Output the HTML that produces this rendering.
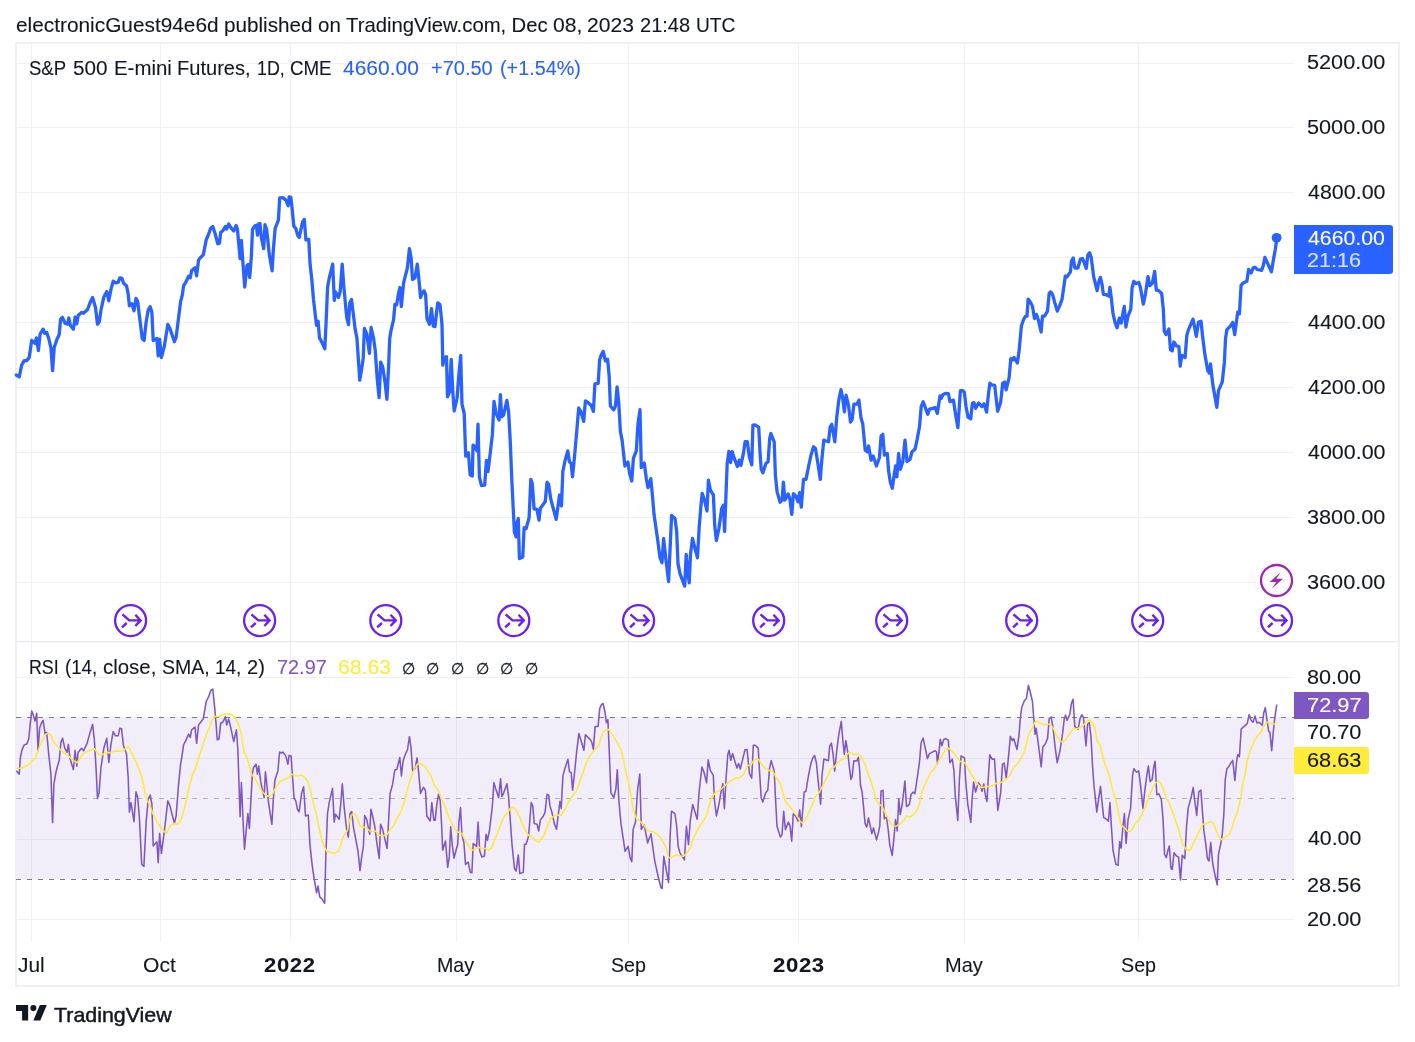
<!DOCTYPE html>
<html lang="en">
<head>
<meta charset="utf-8">
<title>S&amp;P 500 E-mini Futures, 1D, CME</title>
<style>
html,body{margin:0;padding:0;background:#fff;}
body{width:1415px;height:1042px;overflow:hidden;position:relative;font-family:"Liberation Sans", "DejaVu Sans", sans-serif;color:#131722;}
.t{position:absolute;white-space:pre;line-height:1;transform-origin:0 0;}
.frame{position:absolute;left:15px;top:42px;width:1381px;height:941px;border:2px solid #eff0f5;}
.chart{position:absolute;left:0;top:0;}
.box{position:absolute;left:1294px;border-radius:0 3px 3px 0;}
</style>
</head>
<body>
<div class="frame"></div>
<svg class="chart" width="1415" height="1042" viewBox="0 0 1415 1042"><g stroke="#f1f1f4" stroke-width="1" shape-rendering="crispEdges"><line x1="31.5" y1="44" x2="31.5" y2="942"/><line x1="160.5" y1="44" x2="160.5" y2="942"/><line x1="290.5" y1="44" x2="290.5" y2="942"/><line x1="456.5" y1="44" x2="456.5" y2="942"/><line x1="628.5" y1="44" x2="628.5" y2="942"/><line x1="798.5" y1="44" x2="798.5" y2="942"/><line x1="964.5" y1="44" x2="964.5" y2="942"/><line x1="1138.5" y1="44" x2="1138.5" y2="942"/><line x1="17" y1="63.5" x2="1294" y2="63.5"/><line x1="17" y1="127.5" x2="1294" y2="127.5"/><line x1="17" y1="192.5" x2="1294" y2="192.5"/><line x1="17" y1="257.5" x2="1294" y2="257.5"/><line x1="17" y1="322.5" x2="1294" y2="322.5"/><line x1="17" y1="387.5" x2="1294" y2="387.5"/><line x1="17" y1="452.5" x2="1294" y2="452.5"/><line x1="17" y1="517.5" x2="1294" y2="517.5"/><line x1="17" y1="582.5" x2="1294" y2="582.5"/><line x1="17" y1="677.5" x2="1294" y2="677.5"/><line x1="17" y1="758.5" x2="1294" y2="758.5"/><line x1="17" y1="839.5" x2="1294" y2="839.5"/><line x1="17" y1="919.5" x2="1294" y2="919.5"/></g><rect x="17" y="641" width="1381" height="1.2" fill="#e5e6ee"/><rect x="17" y="717" width="1277" height="162.5" fill="#7e57c2" fill-opacity="0.1"/><defs><clipPath id="ob"><rect x="16" y="650" width="1278" height="67"/></clipPath><clipPath id="os"><rect x="16" y="880" width="1278" height="50"/></clipPath></defs><polygon points="16,717 16.3,770.8 19.2,774.2 20.4,757.5 22,749.9 24.2,744.9 26.7,744.1 28.7,739.1 30.4,722.4 31.7,711 33,714.1 35,721.1 36.7,713.2 38,750.8 39.7,727.7 41.4,723.2 43.1,720.4 45.1,734.1 46.7,732.4 48.7,754.1 50.9,774.2 52.6,822.6 53.9,784.2 55.9,772.5 57.6,765.8 59.2,760.8 60.9,742.4 62.6,738.3 64.8,748.3 67.1,752.4 68.4,744.4 70.1,759.1 73.4,769.5 75.1,750.4 76.8,766.1 78.1,752.4 81.5,748.3 83.5,750.8 87.1,743.3 90.1,732.4 92.6,724.4 94.3,739.1 96,767.5 97.5,798.4 99,793.3 101,767.5 103.8,748.3 106.8,738.3 108.8,762.5 111,744.1 113.2,731.6 115.5,735.8 118.2,735.8 119.8,728.2 121.5,728.7 123.5,745.8 126.5,754.1 128.2,777.5 129.4,812.2 131,802.5 134,821.7 136,791.7 137.7,797.5 139.4,817.6 141.7,864.3 143.9,866.5 146.1,822.6 148.2,799.2 150.2,795 151.9,804.2 153.2,845.9 156.9,841.8 158.2,862.6 159.6,833.4 161.4,853.4 164.4,830.9 167.8,800.9 169.9,805.9 174.4,823.4 176.1,815.9 178.6,784.2 180.6,764.1 182.3,754.1 183.6,744.9 186.1,739.9 188.6,734.1 190.3,737.4 191.6,729.9 195,727.1 196.6,743.3 198.6,724.9 200.3,722.7 203.3,718.7 206.2,701.5 208.7,696.5 210.7,690.7 212.8,689 215,710.7 217.3,739.9 219,739.1 220.7,723.2 222.9,722.1 225.4,716.6 226.7,724.9 228.7,719.1 230.7,727.4 233.7,741.6 236.4,729.9 237.9,750.8 240.1,816.7 241.4,782.5 243.2,823.5 244.5,849.3 246.2,830.2 247.9,813.5 249.4,828.5 251,798.4 252.4,773.4 253.5,767.5 256,764.2 257.4,774.2 258.7,765.9 260.7,781.7 264.1,797.6 265.4,771.7 266.9,785.1 268.6,803.4 271.9,824.3 273.2,800.9 274.9,780.1 277.9,770.9 279.6,752 281.6,753 282.9,752 285.8,755.9 287.9,764.2 289.1,755.4 291.1,755.9 292.4,775.1 294.1,798.4 295.8,800.9 297.4,809.3 299.1,811.8 301.6,793.4 303.6,786.7 305.5,816 308.3,815.1 310,845.2 312.1,864.4 314.1,878.6 316.6,892.8 318,886.1 319.7,896.9 321.7,898.6 324.7,903.3 325.8,856.9 327.5,813.5 329.2,802.6 332.5,788.4 334.2,822.1 335.5,814.3 339.2,819.3 340.9,802.1 342.3,783.7 344.2,807.6 346.7,830.2 348.3,837.2 350,813.5 351.7,811.5 353.4,826.8 355.9,840.2 358,851 360,870.6 361.7,856.9 363.4,846 364.7,815.5 366.7,819.3 369.7,834.3 370.9,809.3 372.6,816 374.7,826 377.1,844.3 379.2,858.5 380.6,824.3 382.6,829.3 385.1,840.2 387.1,848.5 388.4,824.3 390.1,793.4 392.6,784.2 394.8,770.1 396.8,769.5 399.8,757.5 401.4,775.9 403.1,760.9 405.1,755 407.6,749.2 409.4,736.7 411,747.5 412.6,770.6 415.1,768.4 417.1,757.9 418.5,770.9 420.5,793.4 423.5,787.2 425.5,790.9 426.8,816 430.2,821 431.8,802.6 433.8,820.1 435.2,820.1 436.8,804.3 438.5,794.3 440.2,800.9 441.5,822.6 442.7,850.2 445.5,841 447.7,867.4 449.3,856.9 450.7,826.8 452.2,844.3 454,858.2 455.2,853.5 457.7,844.3 458.9,822.6 460.5,807.6 461.9,834.3 463.9,842.7 465.5,864.4 468.2,862.2 470.2,872.2 471.9,872.7 473.2,843.5 475.2,845.2 476.6,846.8 478.1,822.1 479.7,851 481.9,856.9 484.4,856 486.1,834.3 487.4,840.2 489.4,831 492.3,806.8 493.9,782.6 496.1,790.1 498.6,797.6 500.6,778.7 501.9,796.8 503.6,793.1 506.9,783.7 508.6,796.8 510.3,820.1 512,844.3 514.5,868.5 516.1,871.1 518.3,854.9 519.8,873.6 523.3,872.2 524.5,844.3 526.1,844.3 528.6,836 531.2,802.6 532.8,805.9 534.2,823.5 537,824.3 538.7,831 540.3,820.1 542.8,816.8 545,812.6 547,794.3 548.7,795.1 550,805.9 552,812.6 554.5,824.3 556.5,829.3 557.9,817.6 560,801.4 561.2,808.4 562.9,775.9 564.5,770.1 567.9,759.2 569.5,771.7 571.2,772.6 572.6,790.1 574.2,776.1 576.7,751.1 578.9,733.6 580.9,740.2 583.9,750.3 585.4,734.7 587.5,736.9 590.1,739.4 591.7,741.9 593.4,749.4 595.1,726.6 598.1,726.4 599.7,708.5 601.4,704.7 603.1,703.5 605.1,712.7 606.4,722.7 607.9,719.7 609.2,750.3 610.9,792.8 613.8,797.5 615.9,788.7 617.3,769.8 618.8,799.5 620.9,822.9 623.1,837.9 625.1,851.3 628.1,846.3 630.1,857.6 631.8,861.6 633.1,829.6 635.5,822 637.6,789.5 639.8,774.1 641.3,829.2 644.3,824.9 647.6,842.9 651,833.7 652.7,846.3 654.8,861.3 658.5,878 661,887.7 662.2,888.5 663.8,856.4 666.2,869.6 668.5,882.5 670.2,834.6 671.5,811.2 674.9,813.7 676.5,824.5 678.2,846.3 679.9,852.9 682.7,857.1 684.4,859.9 686.4,826.2 688.5,844.6 690.2,821.2 692.7,804.5 695.2,812.9 697.2,819.2 699.1,792 701.9,767 703.9,772 706.6,782.8 708.2,759.8 710.3,770.3 713.3,775.3 714.4,799.5 716.4,815.9 719.4,802 721.1,791.2 722.8,783.6 724.4,808.7 726.1,777.8 727.8,754.4 729.1,750.3 730.8,760.3 732.5,753.6 734.8,761.1 737,768.1 738.6,763.6 740.3,769.1 742.8,758.6 745,749.8 747,749.4 749.5,773.6 751.7,778.1 753.3,745.2 755.3,745.2 758.2,748.1 759.5,771.1 761.2,797.8 762.8,802 765.7,792.8 767.8,790.3 769.5,768.6 771.2,760.6 774.2,771.1 775.4,796.2 777,826.2 780.4,837.1 782,834.6 783.7,811.2 785.4,829.6 788.4,822 790.1,826.2 791.7,841.2 793.3,813.7 795.8,816.2 798,821.2 799.7,809.9 801.4,826.6 804.2,792 805.9,791.5 808.4,776.1 810.9,763.6 812.9,757.8 814.5,755.3 816.4,762.8 818.7,786.2 820.6,804.2 822.1,774.5 823.9,759.1 825.9,759.8 828.4,760.8 829.7,746.1 831.4,743.1 833.1,754.4 834.7,771.1 836.7,751.1 838.7,735.2 841.3,721.4 842.6,737.7 844.3,754.4 845.9,740.7 847.6,751.1 849.3,766.1 850.9,779.5 852.1,777 853.8,760.8 856.8,761.1 858.4,757.4 859.6,769.5 860.5,785.3 862.1,792 863.5,806.2 865.1,823.7 866.8,827.1 868.5,817.9 870.1,825.4 871.8,833.7 873.5,827.9 876.5,839.9 878.5,832.1 879.8,826.2 881,791.2 883,790.3 884.3,818.7 886.5,817 888.2,829.6 889.7,844.6 892.2,855.4 893.8,839.6 895.5,819.5 897.2,830.9 898.8,798.7 900.2,814.5 902.2,804.5 904.9,781.1 906.5,806.5 909.4,804.5 911,794.5 913.2,792 914.9,793.7 916.5,782.8 919.4,762.8 921.1,742.7 923.1,738.1 925.2,747.8 927.4,758.6 929.4,753.6 931.9,752.4 934.9,750.8 936.6,751.9 937.4,763.6 939.1,751.1 940.3,739.4 941.9,745.7 943.6,739.7 945.6,738.6 948.3,740.2 949.9,762.8 952.3,759.1 953.9,770.3 955.3,796.2 957.8,820.4 959.4,779.5 961.1,755.8 964.5,757.8 965.6,779.5 967.8,804.5 970.8,822.4 972,800.3 973.6,782 975.6,792 978.3,782.8 980.3,785.3 982,791.2 983.7,784.1 985.3,794.5 987,801.5 988.3,777.8 989.8,754.8 992,759.1 994.5,759.1 995.8,779.5 997.8,810.4 1000.7,792.8 1002.5,764.1 1004.2,763.1 1006.2,777.8 1007.9,762.8 1010.4,736.4 1012.4,740.7 1013.7,738.6 1017,749.4 1019,735.2 1020.4,717.6 1021.7,707.5 1024.2,700.9 1026.4,698.4 1028.4,685.3 1030.4,692.5 1032.5,701.7 1035,734.3 1036.2,728.4 1038.7,746.8 1041.2,766.8 1042.9,746.8 1045.1,744.3 1047.6,738.4 1049.2,718.7 1051.2,717.1 1053.1,728.4 1055.1,746.8 1057.2,762.6 1060.1,750.1 1062.6,733.4 1064.3,718.7 1065.6,715.1 1067.1,720.4 1069.8,714.2 1071.4,703.4 1073.1,699.2 1074.8,726.7 1076.4,727.6 1078.1,729.2 1080.1,718.4 1081.8,714.7 1083.5,717.6 1086,745.9 1087.6,724.2 1089.3,722.6 1091,736.8 1092.6,766.8 1094,785.5 1096.8,812.1 1098.7,798.4 1100.5,786.4 1102,801.8 1103.7,817.6 1105.9,818.8 1108.4,821.3 1110,802.6 1111.4,826.8 1113,850.2 1115.9,864.4 1118,865.2 1119.7,841.5 1121.1,848.2 1122.9,826.8 1124.4,813.5 1126.1,843.5 1128.1,819.3 1130.6,808.4 1132.6,775.1 1133.9,768.7 1136.4,772.1 1138.7,770.9 1140.4,783.7 1142.9,808.4 1145.1,788.4 1147.1,773.4 1148.4,765.9 1150.1,781.4 1152.1,779.7 1153.8,766.7 1155.1,761.2 1156.8,794.8 1158.8,793.8 1161.3,799.3 1163,818.5 1164.6,854.4 1166.3,857.7 1168,850.2 1169.3,846 1171,868.5 1172.3,869.4 1174,852.7 1176.5,856 1178.5,856.9 1180.5,879.9 1182.2,855.2 1184.8,858.5 1186.5,826.8 1188.2,808.1 1191.3,796.8 1193.2,787.6 1194.7,800.1 1196.7,815.5 1198.8,791.8 1200.9,790.1 1202.2,808.4 1203.9,831 1205.5,841.8 1207.4,858.5 1209,861 1210.7,842.2 1212.7,863.5 1214.7,873.6 1217.2,884.9 1218.5,854.4 1220.6,844.3 1222.2,835.2 1223.9,813.5 1225.2,780.1 1226.9,768.7 1228.9,766.4 1230.6,763.4 1232.7,760.4 1234.9,780.4 1236.6,761.7 1237.7,754.7 1239.4,756.7 1241.2,729.1 1243,727.3 1247.2,723.7 1249.2,714.5 1251,719.9 1253,722.2 1255,716 1256.8,722.9 1259.1,722.2 1262.2,725.3 1263.7,713 1265.3,707.6 1267.1,720.6 1268.7,731.4 1269.9,732.2 1271.7,750.6 1273.4,730.6 1274.8,717.6 1276.8,704.5 1277,717" fill="#787b86" fill-opacity="0.1" clip-path="url(#ob)"/><polygon points="16,880 16.3,770.8 19.2,774.2 20.4,757.5 22,749.9 24.2,744.9 26.7,744.1 28.7,739.1 30.4,722.4 31.7,711 33,714.1 35,721.1 36.7,713.2 38,750.8 39.7,727.7 41.4,723.2 43.1,720.4 45.1,734.1 46.7,732.4 48.7,754.1 50.9,774.2 52.6,822.6 53.9,784.2 55.9,772.5 57.6,765.8 59.2,760.8 60.9,742.4 62.6,738.3 64.8,748.3 67.1,752.4 68.4,744.4 70.1,759.1 73.4,769.5 75.1,750.4 76.8,766.1 78.1,752.4 81.5,748.3 83.5,750.8 87.1,743.3 90.1,732.4 92.6,724.4 94.3,739.1 96,767.5 97.5,798.4 99,793.3 101,767.5 103.8,748.3 106.8,738.3 108.8,762.5 111,744.1 113.2,731.6 115.5,735.8 118.2,735.8 119.8,728.2 121.5,728.7 123.5,745.8 126.5,754.1 128.2,777.5 129.4,812.2 131,802.5 134,821.7 136,791.7 137.7,797.5 139.4,817.6 141.7,864.3 143.9,866.5 146.1,822.6 148.2,799.2 150.2,795 151.9,804.2 153.2,845.9 156.9,841.8 158.2,862.6 159.6,833.4 161.4,853.4 164.4,830.9 167.8,800.9 169.9,805.9 174.4,823.4 176.1,815.9 178.6,784.2 180.6,764.1 182.3,754.1 183.6,744.9 186.1,739.9 188.6,734.1 190.3,737.4 191.6,729.9 195,727.1 196.6,743.3 198.6,724.9 200.3,722.7 203.3,718.7 206.2,701.5 208.7,696.5 210.7,690.7 212.8,689 215,710.7 217.3,739.9 219,739.1 220.7,723.2 222.9,722.1 225.4,716.6 226.7,724.9 228.7,719.1 230.7,727.4 233.7,741.6 236.4,729.9 237.9,750.8 240.1,816.7 241.4,782.5 243.2,823.5 244.5,849.3 246.2,830.2 247.9,813.5 249.4,828.5 251,798.4 252.4,773.4 253.5,767.5 256,764.2 257.4,774.2 258.7,765.9 260.7,781.7 264.1,797.6 265.4,771.7 266.9,785.1 268.6,803.4 271.9,824.3 273.2,800.9 274.9,780.1 277.9,770.9 279.6,752 281.6,753 282.9,752 285.8,755.9 287.9,764.2 289.1,755.4 291.1,755.9 292.4,775.1 294.1,798.4 295.8,800.9 297.4,809.3 299.1,811.8 301.6,793.4 303.6,786.7 305.5,816 308.3,815.1 310,845.2 312.1,864.4 314.1,878.6 316.6,892.8 318,886.1 319.7,896.9 321.7,898.6 324.7,903.3 325.8,856.9 327.5,813.5 329.2,802.6 332.5,788.4 334.2,822.1 335.5,814.3 339.2,819.3 340.9,802.1 342.3,783.7 344.2,807.6 346.7,830.2 348.3,837.2 350,813.5 351.7,811.5 353.4,826.8 355.9,840.2 358,851 360,870.6 361.7,856.9 363.4,846 364.7,815.5 366.7,819.3 369.7,834.3 370.9,809.3 372.6,816 374.7,826 377.1,844.3 379.2,858.5 380.6,824.3 382.6,829.3 385.1,840.2 387.1,848.5 388.4,824.3 390.1,793.4 392.6,784.2 394.8,770.1 396.8,769.5 399.8,757.5 401.4,775.9 403.1,760.9 405.1,755 407.6,749.2 409.4,736.7 411,747.5 412.6,770.6 415.1,768.4 417.1,757.9 418.5,770.9 420.5,793.4 423.5,787.2 425.5,790.9 426.8,816 430.2,821 431.8,802.6 433.8,820.1 435.2,820.1 436.8,804.3 438.5,794.3 440.2,800.9 441.5,822.6 442.7,850.2 445.5,841 447.7,867.4 449.3,856.9 450.7,826.8 452.2,844.3 454,858.2 455.2,853.5 457.7,844.3 458.9,822.6 460.5,807.6 461.9,834.3 463.9,842.7 465.5,864.4 468.2,862.2 470.2,872.2 471.9,872.7 473.2,843.5 475.2,845.2 476.6,846.8 478.1,822.1 479.7,851 481.9,856.9 484.4,856 486.1,834.3 487.4,840.2 489.4,831 492.3,806.8 493.9,782.6 496.1,790.1 498.6,797.6 500.6,778.7 501.9,796.8 503.6,793.1 506.9,783.7 508.6,796.8 510.3,820.1 512,844.3 514.5,868.5 516.1,871.1 518.3,854.9 519.8,873.6 523.3,872.2 524.5,844.3 526.1,844.3 528.6,836 531.2,802.6 532.8,805.9 534.2,823.5 537,824.3 538.7,831 540.3,820.1 542.8,816.8 545,812.6 547,794.3 548.7,795.1 550,805.9 552,812.6 554.5,824.3 556.5,829.3 557.9,817.6 560,801.4 561.2,808.4 562.9,775.9 564.5,770.1 567.9,759.2 569.5,771.7 571.2,772.6 572.6,790.1 574.2,776.1 576.7,751.1 578.9,733.6 580.9,740.2 583.9,750.3 585.4,734.7 587.5,736.9 590.1,739.4 591.7,741.9 593.4,749.4 595.1,726.6 598.1,726.4 599.7,708.5 601.4,704.7 603.1,703.5 605.1,712.7 606.4,722.7 607.9,719.7 609.2,750.3 610.9,792.8 613.8,797.5 615.9,788.7 617.3,769.8 618.8,799.5 620.9,822.9 623.1,837.9 625.1,851.3 628.1,846.3 630.1,857.6 631.8,861.6 633.1,829.6 635.5,822 637.6,789.5 639.8,774.1 641.3,829.2 644.3,824.9 647.6,842.9 651,833.7 652.7,846.3 654.8,861.3 658.5,878 661,887.7 662.2,888.5 663.8,856.4 666.2,869.6 668.5,882.5 670.2,834.6 671.5,811.2 674.9,813.7 676.5,824.5 678.2,846.3 679.9,852.9 682.7,857.1 684.4,859.9 686.4,826.2 688.5,844.6 690.2,821.2 692.7,804.5 695.2,812.9 697.2,819.2 699.1,792 701.9,767 703.9,772 706.6,782.8 708.2,759.8 710.3,770.3 713.3,775.3 714.4,799.5 716.4,815.9 719.4,802 721.1,791.2 722.8,783.6 724.4,808.7 726.1,777.8 727.8,754.4 729.1,750.3 730.8,760.3 732.5,753.6 734.8,761.1 737,768.1 738.6,763.6 740.3,769.1 742.8,758.6 745,749.8 747,749.4 749.5,773.6 751.7,778.1 753.3,745.2 755.3,745.2 758.2,748.1 759.5,771.1 761.2,797.8 762.8,802 765.7,792.8 767.8,790.3 769.5,768.6 771.2,760.6 774.2,771.1 775.4,796.2 777,826.2 780.4,837.1 782,834.6 783.7,811.2 785.4,829.6 788.4,822 790.1,826.2 791.7,841.2 793.3,813.7 795.8,816.2 798,821.2 799.7,809.9 801.4,826.6 804.2,792 805.9,791.5 808.4,776.1 810.9,763.6 812.9,757.8 814.5,755.3 816.4,762.8 818.7,786.2 820.6,804.2 822.1,774.5 823.9,759.1 825.9,759.8 828.4,760.8 829.7,746.1 831.4,743.1 833.1,754.4 834.7,771.1 836.7,751.1 838.7,735.2 841.3,721.4 842.6,737.7 844.3,754.4 845.9,740.7 847.6,751.1 849.3,766.1 850.9,779.5 852.1,777 853.8,760.8 856.8,761.1 858.4,757.4 859.6,769.5 860.5,785.3 862.1,792 863.5,806.2 865.1,823.7 866.8,827.1 868.5,817.9 870.1,825.4 871.8,833.7 873.5,827.9 876.5,839.9 878.5,832.1 879.8,826.2 881,791.2 883,790.3 884.3,818.7 886.5,817 888.2,829.6 889.7,844.6 892.2,855.4 893.8,839.6 895.5,819.5 897.2,830.9 898.8,798.7 900.2,814.5 902.2,804.5 904.9,781.1 906.5,806.5 909.4,804.5 911,794.5 913.2,792 914.9,793.7 916.5,782.8 919.4,762.8 921.1,742.7 923.1,738.1 925.2,747.8 927.4,758.6 929.4,753.6 931.9,752.4 934.9,750.8 936.6,751.9 937.4,763.6 939.1,751.1 940.3,739.4 941.9,745.7 943.6,739.7 945.6,738.6 948.3,740.2 949.9,762.8 952.3,759.1 953.9,770.3 955.3,796.2 957.8,820.4 959.4,779.5 961.1,755.8 964.5,757.8 965.6,779.5 967.8,804.5 970.8,822.4 972,800.3 973.6,782 975.6,792 978.3,782.8 980.3,785.3 982,791.2 983.7,784.1 985.3,794.5 987,801.5 988.3,777.8 989.8,754.8 992,759.1 994.5,759.1 995.8,779.5 997.8,810.4 1000.7,792.8 1002.5,764.1 1004.2,763.1 1006.2,777.8 1007.9,762.8 1010.4,736.4 1012.4,740.7 1013.7,738.6 1017,749.4 1019,735.2 1020.4,717.6 1021.7,707.5 1024.2,700.9 1026.4,698.4 1028.4,685.3 1030.4,692.5 1032.5,701.7 1035,734.3 1036.2,728.4 1038.7,746.8 1041.2,766.8 1042.9,746.8 1045.1,744.3 1047.6,738.4 1049.2,718.7 1051.2,717.1 1053.1,728.4 1055.1,746.8 1057.2,762.6 1060.1,750.1 1062.6,733.4 1064.3,718.7 1065.6,715.1 1067.1,720.4 1069.8,714.2 1071.4,703.4 1073.1,699.2 1074.8,726.7 1076.4,727.6 1078.1,729.2 1080.1,718.4 1081.8,714.7 1083.5,717.6 1086,745.9 1087.6,724.2 1089.3,722.6 1091,736.8 1092.6,766.8 1094,785.5 1096.8,812.1 1098.7,798.4 1100.5,786.4 1102,801.8 1103.7,817.6 1105.9,818.8 1108.4,821.3 1110,802.6 1111.4,826.8 1113,850.2 1115.9,864.4 1118,865.2 1119.7,841.5 1121.1,848.2 1122.9,826.8 1124.4,813.5 1126.1,843.5 1128.1,819.3 1130.6,808.4 1132.6,775.1 1133.9,768.7 1136.4,772.1 1138.7,770.9 1140.4,783.7 1142.9,808.4 1145.1,788.4 1147.1,773.4 1148.4,765.9 1150.1,781.4 1152.1,779.7 1153.8,766.7 1155.1,761.2 1156.8,794.8 1158.8,793.8 1161.3,799.3 1163,818.5 1164.6,854.4 1166.3,857.7 1168,850.2 1169.3,846 1171,868.5 1172.3,869.4 1174,852.7 1176.5,856 1178.5,856.9 1180.5,879.9 1182.2,855.2 1184.8,858.5 1186.5,826.8 1188.2,808.1 1191.3,796.8 1193.2,787.6 1194.7,800.1 1196.7,815.5 1198.8,791.8 1200.9,790.1 1202.2,808.4 1203.9,831 1205.5,841.8 1207.4,858.5 1209,861 1210.7,842.2 1212.7,863.5 1214.7,873.6 1217.2,884.9 1218.5,854.4 1220.6,844.3 1222.2,835.2 1223.9,813.5 1225.2,780.1 1226.9,768.7 1228.9,766.4 1230.6,763.4 1232.7,760.4 1234.9,780.4 1236.6,761.7 1237.7,754.7 1239.4,756.7 1241.2,729.1 1243,727.3 1247.2,723.7 1249.2,714.5 1251,719.9 1253,722.2 1255,716 1256.8,722.9 1259.1,722.2 1262.2,725.3 1263.7,713 1265.3,707.6 1267.1,720.6 1268.7,731.4 1269.9,732.2 1271.7,750.6 1273.4,730.6 1274.8,717.6 1276.8,704.5 1277,880" fill="#787b86" fill-opacity="0.08" clip-path="url(#os)"/><line x1="16" y1="717.5" x2="1294" y2="717.5" stroke="#787b86" stroke-opacity="1" stroke-width="1" stroke-dasharray="5 6" shape-rendering="crispEdges"/><line x1="16" y1="798.5" x2="1294" y2="798.5" stroke="#787b86" stroke-opacity="0.55" stroke-width="1" stroke-dasharray="5 6" shape-rendering="crispEdges"/><line x1="16" y1="879.5" x2="1294" y2="879.5" stroke="#787b86" stroke-opacity="1" stroke-width="1" stroke-dasharray="5 6" shape-rendering="crispEdges"/><polyline points="16.3,770.8 19.2,774.2 20.4,757.5 22,749.9 24.2,744.9 26.7,744.1 28.7,739.1 30.4,722.4 31.7,711 33,714.1 35,721.1 36.7,713.2 38,750.8 39.7,727.7 41.4,723.2 43.1,720.4 45.1,734.1 46.7,732.4 48.7,754.1 50.9,774.2 52.6,822.6 53.9,784.2 55.9,772.5 57.6,765.8 59.2,760.8 60.9,742.4 62.6,738.3 64.8,748.3 67.1,752.4 68.4,744.4 70.1,759.1 73.4,769.5 75.1,750.4 76.8,766.1 78.1,752.4 81.5,748.3 83.5,750.8 87.1,743.3 90.1,732.4 92.6,724.4 94.3,739.1 96,767.5 97.5,798.4 99,793.3 101,767.5 103.8,748.3 106.8,738.3 108.8,762.5 111,744.1 113.2,731.6 115.5,735.8 118.2,735.8 119.8,728.2 121.5,728.7 123.5,745.8 126.5,754.1 128.2,777.5 129.4,812.2 131,802.5 134,821.7 136,791.7 137.7,797.5 139.4,817.6 141.7,864.3 143.9,866.5 146.1,822.6 148.2,799.2 150.2,795 151.9,804.2 153.2,845.9 156.9,841.8 158.2,862.6 159.6,833.4 161.4,853.4 164.4,830.9 167.8,800.9 169.9,805.9 174.4,823.4 176.1,815.9 178.6,784.2 180.6,764.1 182.3,754.1 183.6,744.9 186.1,739.9 188.6,734.1 190.3,737.4 191.6,729.9 195,727.1 196.6,743.3 198.6,724.9 200.3,722.7 203.3,718.7 206.2,701.5 208.7,696.5 210.7,690.7 212.8,689 215,710.7 217.3,739.9 219,739.1 220.7,723.2 222.9,722.1 225.4,716.6 226.7,724.9 228.7,719.1 230.7,727.4 233.7,741.6 236.4,729.9 237.9,750.8 240.1,816.7 241.4,782.5 243.2,823.5 244.5,849.3 246.2,830.2 247.9,813.5 249.4,828.5 251,798.4 252.4,773.4 253.5,767.5 256,764.2 257.4,774.2 258.7,765.9 260.7,781.7 264.1,797.6 265.4,771.7 266.9,785.1 268.6,803.4 271.9,824.3 273.2,800.9 274.9,780.1 277.9,770.9 279.6,752 281.6,753 282.9,752 285.8,755.9 287.9,764.2 289.1,755.4 291.1,755.9 292.4,775.1 294.1,798.4 295.8,800.9 297.4,809.3 299.1,811.8 301.6,793.4 303.6,786.7 305.5,816 308.3,815.1 310,845.2 312.1,864.4 314.1,878.6 316.6,892.8 318,886.1 319.7,896.9 321.7,898.6 324.7,903.3 325.8,856.9 327.5,813.5 329.2,802.6 332.5,788.4 334.2,822.1 335.5,814.3 339.2,819.3 340.9,802.1 342.3,783.7 344.2,807.6 346.7,830.2 348.3,837.2 350,813.5 351.7,811.5 353.4,826.8 355.9,840.2 358,851 360,870.6 361.7,856.9 363.4,846 364.7,815.5 366.7,819.3 369.7,834.3 370.9,809.3 372.6,816 374.7,826 377.1,844.3 379.2,858.5 380.6,824.3 382.6,829.3 385.1,840.2 387.1,848.5 388.4,824.3 390.1,793.4 392.6,784.2 394.8,770.1 396.8,769.5 399.8,757.5 401.4,775.9 403.1,760.9 405.1,755 407.6,749.2 409.4,736.7 411,747.5 412.6,770.6 415.1,768.4 417.1,757.9 418.5,770.9 420.5,793.4 423.5,787.2 425.5,790.9 426.8,816 430.2,821 431.8,802.6 433.8,820.1 435.2,820.1 436.8,804.3 438.5,794.3 440.2,800.9 441.5,822.6 442.7,850.2 445.5,841 447.7,867.4 449.3,856.9 450.7,826.8 452.2,844.3 454,858.2 455.2,853.5 457.7,844.3 458.9,822.6 460.5,807.6 461.9,834.3 463.9,842.7 465.5,864.4 468.2,862.2 470.2,872.2 471.9,872.7 473.2,843.5 475.2,845.2 476.6,846.8 478.1,822.1 479.7,851 481.9,856.9 484.4,856 486.1,834.3 487.4,840.2 489.4,831 492.3,806.8 493.9,782.6 496.1,790.1 498.6,797.6 500.6,778.7 501.9,796.8 503.6,793.1 506.9,783.7 508.6,796.8 510.3,820.1 512,844.3 514.5,868.5 516.1,871.1 518.3,854.9 519.8,873.6 523.3,872.2 524.5,844.3 526.1,844.3 528.6,836 531.2,802.6 532.8,805.9 534.2,823.5 537,824.3 538.7,831 540.3,820.1 542.8,816.8 545,812.6 547,794.3 548.7,795.1 550,805.9 552,812.6 554.5,824.3 556.5,829.3 557.9,817.6 560,801.4 561.2,808.4 562.9,775.9 564.5,770.1 567.9,759.2 569.5,771.7 571.2,772.6 572.6,790.1 574.2,776.1 576.7,751.1 578.9,733.6 580.9,740.2 583.9,750.3 585.4,734.7 587.5,736.9 590.1,739.4 591.7,741.9 593.4,749.4 595.1,726.6 598.1,726.4 599.7,708.5 601.4,704.7 603.1,703.5 605.1,712.7 606.4,722.7 607.9,719.7 609.2,750.3 610.9,792.8 613.8,797.5 615.9,788.7 617.3,769.8 618.8,799.5 620.9,822.9 623.1,837.9 625.1,851.3 628.1,846.3 630.1,857.6 631.8,861.6 633.1,829.6 635.5,822 637.6,789.5 639.8,774.1 641.3,829.2 644.3,824.9 647.6,842.9 651,833.7 652.7,846.3 654.8,861.3 658.5,878 661,887.7 662.2,888.5 663.8,856.4 666.2,869.6 668.5,882.5 670.2,834.6 671.5,811.2 674.9,813.7 676.5,824.5 678.2,846.3 679.9,852.9 682.7,857.1 684.4,859.9 686.4,826.2 688.5,844.6 690.2,821.2 692.7,804.5 695.2,812.9 697.2,819.2 699.1,792 701.9,767 703.9,772 706.6,782.8 708.2,759.8 710.3,770.3 713.3,775.3 714.4,799.5 716.4,815.9 719.4,802 721.1,791.2 722.8,783.6 724.4,808.7 726.1,777.8 727.8,754.4 729.1,750.3 730.8,760.3 732.5,753.6 734.8,761.1 737,768.1 738.6,763.6 740.3,769.1 742.8,758.6 745,749.8 747,749.4 749.5,773.6 751.7,778.1 753.3,745.2 755.3,745.2 758.2,748.1 759.5,771.1 761.2,797.8 762.8,802 765.7,792.8 767.8,790.3 769.5,768.6 771.2,760.6 774.2,771.1 775.4,796.2 777,826.2 780.4,837.1 782,834.6 783.7,811.2 785.4,829.6 788.4,822 790.1,826.2 791.7,841.2 793.3,813.7 795.8,816.2 798,821.2 799.7,809.9 801.4,826.6 804.2,792 805.9,791.5 808.4,776.1 810.9,763.6 812.9,757.8 814.5,755.3 816.4,762.8 818.7,786.2 820.6,804.2 822.1,774.5 823.9,759.1 825.9,759.8 828.4,760.8 829.7,746.1 831.4,743.1 833.1,754.4 834.7,771.1 836.7,751.1 838.7,735.2 841.3,721.4 842.6,737.7 844.3,754.4 845.9,740.7 847.6,751.1 849.3,766.1 850.9,779.5 852.1,777 853.8,760.8 856.8,761.1 858.4,757.4 859.6,769.5 860.5,785.3 862.1,792 863.5,806.2 865.1,823.7 866.8,827.1 868.5,817.9 870.1,825.4 871.8,833.7 873.5,827.9 876.5,839.9 878.5,832.1 879.8,826.2 881,791.2 883,790.3 884.3,818.7 886.5,817 888.2,829.6 889.7,844.6 892.2,855.4 893.8,839.6 895.5,819.5 897.2,830.9 898.8,798.7 900.2,814.5 902.2,804.5 904.9,781.1 906.5,806.5 909.4,804.5 911,794.5 913.2,792 914.9,793.7 916.5,782.8 919.4,762.8 921.1,742.7 923.1,738.1 925.2,747.8 927.4,758.6 929.4,753.6 931.9,752.4 934.9,750.8 936.6,751.9 937.4,763.6 939.1,751.1 940.3,739.4 941.9,745.7 943.6,739.7 945.6,738.6 948.3,740.2 949.9,762.8 952.3,759.1 953.9,770.3 955.3,796.2 957.8,820.4 959.4,779.5 961.1,755.8 964.5,757.8 965.6,779.5 967.8,804.5 970.8,822.4 972,800.3 973.6,782 975.6,792 978.3,782.8 980.3,785.3 982,791.2 983.7,784.1 985.3,794.5 987,801.5 988.3,777.8 989.8,754.8 992,759.1 994.5,759.1 995.8,779.5 997.8,810.4 1000.7,792.8 1002.5,764.1 1004.2,763.1 1006.2,777.8 1007.9,762.8 1010.4,736.4 1012.4,740.7 1013.7,738.6 1017,749.4 1019,735.2 1020.4,717.6 1021.7,707.5 1024.2,700.9 1026.4,698.4 1028.4,685.3 1030.4,692.5 1032.5,701.7 1035,734.3 1036.2,728.4 1038.7,746.8 1041.2,766.8 1042.9,746.8 1045.1,744.3 1047.6,738.4 1049.2,718.7 1051.2,717.1 1053.1,728.4 1055.1,746.8 1057.2,762.6 1060.1,750.1 1062.6,733.4 1064.3,718.7 1065.6,715.1 1067.1,720.4 1069.8,714.2 1071.4,703.4 1073.1,699.2 1074.8,726.7 1076.4,727.6 1078.1,729.2 1080.1,718.4 1081.8,714.7 1083.5,717.6 1086,745.9 1087.6,724.2 1089.3,722.6 1091,736.8 1092.6,766.8 1094,785.5 1096.8,812.1 1098.7,798.4 1100.5,786.4 1102,801.8 1103.7,817.6 1105.9,818.8 1108.4,821.3 1110,802.6 1111.4,826.8 1113,850.2 1115.9,864.4 1118,865.2 1119.7,841.5 1121.1,848.2 1122.9,826.8 1124.4,813.5 1126.1,843.5 1128.1,819.3 1130.6,808.4 1132.6,775.1 1133.9,768.7 1136.4,772.1 1138.7,770.9 1140.4,783.7 1142.9,808.4 1145.1,788.4 1147.1,773.4 1148.4,765.9 1150.1,781.4 1152.1,779.7 1153.8,766.7 1155.1,761.2 1156.8,794.8 1158.8,793.8 1161.3,799.3 1163,818.5 1164.6,854.4 1166.3,857.7 1168,850.2 1169.3,846 1171,868.5 1172.3,869.4 1174,852.7 1176.5,856 1178.5,856.9 1180.5,879.9 1182.2,855.2 1184.8,858.5 1186.5,826.8 1188.2,808.1 1191.3,796.8 1193.2,787.6 1194.7,800.1 1196.7,815.5 1198.8,791.8 1200.9,790.1 1202.2,808.4 1203.9,831 1205.5,841.8 1207.4,858.5 1209,861 1210.7,842.2 1212.7,863.5 1214.7,873.6 1217.2,884.9 1218.5,854.4 1220.6,844.3 1222.2,835.2 1223.9,813.5 1225.2,780.1 1226.9,768.7 1228.9,766.4 1230.6,763.4 1232.7,760.4 1234.9,780.4 1236.6,761.7 1237.7,754.7 1239.4,756.7 1241.2,729.1 1243,727.3 1247.2,723.7 1249.2,714.5 1251,719.9 1253,722.2 1255,716 1256.8,722.9 1259.1,722.2 1262.2,725.3 1263.7,713 1265.3,707.6 1267.1,720.6 1268.7,731.4 1269.9,732.2 1271.7,750.6 1273.4,730.6 1274.8,717.6 1276.8,704.5" fill="none" stroke="#7e57c2" stroke-width="1.55" stroke-linejoin="round"/><polyline points="16.3,768.3 20.9,768.3 24.2,767 28,765 31.7,761.6 35,758.3 37.5,752.4 40.1,744.9 43.1,739.1 45.9,734.1 48.1,733.2 50.9,735.4 53.4,741.6 56.7,745.4 60.1,749.6 63.4,752.4 67.6,755 70.9,758.3 74.3,761.1 76.8,762.8 79.3,759.5 81.8,755 84.3,752.8 88.5,751.1 91.8,749.9 94.3,748.8 96,750.8 98.5,754.5 101.8,755 104.3,753.3 106.8,752.1 109.3,752.9 111.8,752.1 115.2,751.1 120.2,751.1 123.5,750.8 126,747.8 128.2,746.3 130.2,749.9 133.5,756.6 137.7,765.8 141.1,775 143.6,785 145.6,795 147.7,800.9 150.2,805.9 152.7,813.4 156.1,820.1 160.3,826.7 163.6,830.9 166.4,833.4 168.6,829.2 171.1,825.1 174.4,823.4 177.8,824.2 180.3,821.7 182.8,814.2 186.1,800.9 189.5,785.8 192,775.8 195.3,769.1 197.8,760.8 200.3,753.3 203.7,742.4 207,732.4 209.5,727.7 212,720.7 214,716.6 217,716.6 220.7,715.7 224.5,714.1 228.7,713.7 232,714.9 235.4,718.2 238.7,724.9 241.2,734.1 243.4,748.3 244,751.7 246.9,757.5 249,765 251.5,774.2 254.9,778.4 259.1,785.9 262.4,791.8 265.7,795.1 269.9,796.8 272.4,794.3 274.9,789.2 277.4,785.1 279.9,781.7 283.3,779.7 288.3,778.1 291.1,773.7 293.3,775.1 296.6,775.9 301.6,775.1 305,777.6 308.3,782.6 310.8,791.8 313.3,802.6 316.6,815.1 319.2,828.5 321.7,839.3 324.2,846.8 326.7,851 330,852.2 335,853.2 338.4,851 340.8,845.2 342.5,838.5 345,833.5 347.5,830.2 349.2,821.8 350.9,816 353.4,813.8 355.9,815.5 358,820.1 360,826 363.4,827.1 366.7,828.1 370.1,831 373.4,831.5 375.9,831 379.2,835.2 382.6,835.7 386.7,835.2 389.2,831 393.4,826 396.8,818.5 400.9,811.8 404.3,801.8 407.6,788.4 411.8,775.1 415.1,767.5 418.5,763 421.8,764.2 425.1,766.7 427.6,770.9 431,775.9 434.3,785.1 438.5,790.9 441.8,799.3 445.2,806.8 448.5,816.8 451.9,823.5 456,831 458.5,832.2 461.9,833.5 465.2,840.2 468.5,846 471.9,850.2 475.2,849.3 478.2,846.8 481.1,848.5 486.1,848.5 488.6,850.2 491.9,847.7 494.4,840.2 497.8,832.7 501.1,823.5 504.4,816 507.8,812.6 510.3,808.1 512.8,807.1 516.1,810.1 519.5,816.8 522.8,825.1 526.1,831.8 528.6,835.2 532,836.5 535.3,840.2 538.7,842.2 541.2,839.3 544.5,834.3 547.8,825.1 550.7,818.1 554.5,816 557.9,815.1 561.2,815.5 564.5,810.1 568.7,801.8 573.4,794.5 575.9,792 578.4,786.2 580.9,777.8 583.4,772 585.9,763.6 589.2,756.9 592.6,751.9 595.9,748.6 598.7,745.2 600.9,737.7 603.1,731.9 605.9,730.2 608.4,729.4 610.9,732.4 614.3,737.7 617.6,743.6 620.9,749.4 623.4,759.4 625.9,772 628.4,782 630.5,792.8 632.6,806.2 635.1,815.4 637.1,819.5 640.1,821.2 643.5,824.5 646.8,829.6 649.3,831.2 652.7,831.6 656,833.7 659.3,835.9 662.7,841.2 666,847.1 668.5,857.1 670.2,857.9 673.5,856.6 676.9,854.6 679.4,855.9 683.5,856.3 686.9,852.9 690.2,847.9 693.6,837.9 696.9,831.2 701.1,823.7 704.4,819.5 706.9,814.5 709.4,804.5 711.9,797 715.3,792.8 718.6,791.2 722.8,787.5 726.9,783.6 730.3,781.1 734.5,778.6 738.6,778.1 742,776.1 744.5,772.8 747,766.1 751.2,764.4 753.7,760.3 756.2,759.1 758.7,759.4 762,765.3 765.3,768.1 768.7,770.3 772.9,771.5 776.2,777.8 780.4,783.6 782.9,792.8 785.4,801.2 789.5,806.2 793.3,811.2 796.7,815.4 800,821.2 802.5,823.2 805,820.4 808.4,813.7 811.7,806.2 815,797 818.4,793.7 821.7,787.8 825.1,781.1 828.4,774.5 830.9,768.6 834.2,767 837.6,762.8 840.9,760.3 844.3,758.6 846.8,754.4 849.3,752.4 851.8,753.6 854.3,754.4 857.6,754.1 860.1,756.1 862.6,759.4 865.1,764.4 867.6,772.8 871,781.1 873.5,789.5 876,800.3 879.3,804.2 881.8,806.2 885.2,812.9 888.5,819.5 891,824.2 893.5,826.2 896.8,825.9 900.2,823.7 903.5,820.4 906.9,815.9 910.2,817 913.5,814.9 916.9,810.4 919.4,803.7 921.9,792 924.4,785.3 927.7,778.6 931.1,772 933.6,769.8 936.9,763.6 940.3,758.6 943.6,752.8 946.1,749.4 948.3,748.1 951.1,750.3 954.4,753.6 957.8,758.6 960.3,761.4 963.6,761.9 966.1,764.4 968.6,769.5 972,775.3 975.3,781.1 978.6,785.3 982,787.8 984.5,787 987.8,786.5 991.2,786.2 994.5,784.5 997,782.8 1000.4,782.8 1003.7,781.1 1007,778.6 1010.4,774.5 1013.7,767 1017,764.4 1020.9,758.5 1024.2,751.8 1026.7,742.6 1029.2,733.4 1032.5,727.6 1034.7,722.6 1036.7,720.9 1040.1,723.1 1043.4,724.7 1046.7,724.2 1050.1,724.2 1053.4,728.4 1056.7,735.9 1059.2,740.4 1062.6,742.1 1065.9,739.3 1069.3,734.3 1073.4,728.4 1076.8,728.7 1080.1,727.6 1083.5,725.1 1086.8,721.4 1089.8,720.1 1092.6,723.1 1095.1,729.2 1096.7,740 1100,745 1102.5,755 1105,764.2 1108.4,772.6 1110.9,782.6 1113.4,792.6 1116.7,803.4 1119.2,816.8 1120.9,825.1 1124.2,827.6 1127.6,831.5 1130.9,831.5 1133.4,826.8 1135.9,822.6 1139.2,819.8 1142.6,812.6 1145.9,805.9 1149.3,795.1 1152.6,788.4 1155.9,782.6 1158.4,781.4 1161,783.4 1163.5,790.1 1166,797.6 1168.5,801.8 1171.8,810.1 1175.1,819.3 1177.6,826 1180.2,836 1182.7,844.3 1186,849.3 1188.5,850.5 1191,849.3 1193.5,842.7 1196.8,836.8 1200.2,829.3 1202.7,824.3 1206,823.8 1208.5,822.6 1211,821.5 1213.5,823.5 1216,830.2 1218.5,836 1221.9,839.8 1225.2,836.8 1229.4,834.3 1231.9,828.5 1234.4,820.1 1236.9,813.5 1239.4,804.3 1241.1,795.1 1242.8,783.4 1245.3,773.4 1246.9,762.9 1249.2,753.7 1252.2,746 1255.3,739.1 1257.6,736 1260.7,732.2 1263,727.6 1265.3,723.7 1267.6,722.2 1269.9,722.9 1272.2,724.2 1274.5,723.7 1276.5,722.6" fill="none" stroke="#ffe83a" stroke-width="1.55" stroke-linejoin="round"/><polyline points="16.3,375.1 19.2,376.8 21.7,365.1 24.2,360.6 26.7,360.6 29.2,357.6 31.7,340.4 35,343.4 36.4,337.9 38.4,350.6 40.1,334.2 43.1,329.2 44.7,333.4 46.7,332.5 48.7,338.4 50.9,347.6 52.6,370.6 54.2,347.6 56.7,340 59.2,334.5 60.6,319.2 62.3,317.2 65.1,323.3 67.6,324.2 68.8,317.8 70.4,325.5 73.4,329.2 75.1,317.2 76.8,323.8 78.1,315.5 81.5,312.5 83.5,313.3 87.6,309.5 90.1,302.5 92.6,297.5 95.5,307.5 97.5,324.2 99.3,321.7 101,310 103.8,297.1 106.8,291.6 108.8,300.8 111,289.1 113.2,281.1 115.5,282.8 118.2,282.4 119.8,277.8 121.9,278.3 123.5,283.3 126.5,285.8 128.2,294.1 129.4,305.8 131.9,303.8 134,310.8 136,298.3 137.7,301.6 139.4,315.8 142.2,338.4 144.1,340.5 146.1,322.5 148.2,310 150.2,306.7 151.9,312.5 153.2,340.5 156.9,338.4 158.2,355.9 159.6,339.2 161.4,357.6 164.4,345.9 167.8,324.5 169.9,328.4 174.4,341.7 176.1,337.5 178.6,317.5 180.6,301.6 182.3,295 183.6,285.8 186.1,281.6 188.6,276.1 190.3,277.8 191.6,270.8 195,267.8 196.6,275.8 198.6,259.9 200.3,257.7 203.3,254.9 206.2,239.9 208.7,234 210.7,228.2 212.8,226.5 215,233.2 217.8,243.7 219.5,243.2 220.7,232.4 222.9,230.7 225.4,226.5 226.7,229 228.7,224 230.7,227.4 233.7,231 236.2,225.4 237.4,229 240.1,258.7 241.4,240.4 242.9,262.4 244.7,287 247,265.3 248.3,264.5 249.7,277.5 251.4,256.1 252.5,229.4 255,225.7 256.4,225.2 257.5,235.2 258.9,223.6 260,223.6 261.4,237.8 263.7,248.6 265,224.7 266.7,229.7 269.2,253.6 272.1,270.8 273.4,249.4 275.1,228.6 278.4,220.2 279.7,198 283.1,197.7 285.9,200.2 288.1,205.7 289.2,196.9 290.9,197.4 292.1,208.5 293.8,226.1 295.9,228.6 297.6,235.2 299.3,237.4 300.9,229.7 302.6,221.9 304.3,219.4 305.9,239.8 308.8,239.4 310.1,264.5 311.8,279.5 313.5,299.5 316.5,325.4 318.1,321.2 319.5,337.9 321.8,342.1 324.8,348.8 326,324.6 327.6,287 329.3,277.8 332.7,264.1 334.3,300.4 335.5,292 338.5,297.5 340.2,291.2 342.2,264.1 343.8,286.2 345.5,304.5 346.8,317.9 348.5,324.6 349.8,302.9 351.5,299.5 353.2,312.9 355.2,329.6 356.9,337.9 358.9,366.8 359.7,380.1 361.5,370.1 363.2,358.4 364.4,328.4 366.9,334.2 369.4,353.4 371.1,327.5 373.6,338.4 375.2,350.1 377.2,378.5 379.1,397.7 380.7,362.1 382.7,366.8 385.2,383.5 386.9,399.3 388.6,366.8 389.7,338.4 391.1,330.1 393.6,319.6 394.9,304.5 396.6,304.9 398.3,294.5 399.9,287.5 401.3,306.5 403.6,282.8 405.3,276.2 407.4,267.8 409.4,248.6 411.1,257.8 412.5,279.5 415,277.8 417.3,264.1 418.6,276.2 420.6,297.5 422.3,292.8 424,290.8 425.6,294.5 427,318.7 429.5,324.2 431.5,308.7 433.3,326.2 435,326.6 436.7,311.2 437.8,302.9 440,304.5 442,324.6 442.8,365.1 444.5,357.6 446.5,356.8 447.5,396.8 449.5,391.8 451.2,359.3 452.9,393.5 454.2,411 457,398.5 459,373.5 460.7,355.4 462,404.3 464.2,413.5 465.7,456.1 468.4,452.8 470.2,475.1 472.3,476 473,445.1 475.2,446.8 476.9,450.9 478,424.2 479.4,476.8 481.4,485.5 484.7,485.2 486.4,460.5 488,471.5 490.2,453.4 492.4,434.2 494,401.4 496.1,413.4 499.1,420.1 500.4,394.7 501.7,416.7 503.6,415 506.9,400.4 508.6,411.7 510.2,440.1 511.9,481.8 514.4,531.9 516.1,536.9 516.9,523.6 518.3,518.5 519.4,558.6 522.8,556.9 524.1,527.7 526.1,528.6 529.1,517.7 530.8,479.3 532.3,483.5 534.1,508.9 537,509.4 539,520.2 540.3,508.5 545.3,501.5 547,482.2 548.6,484.3 550.8,499.3 556.2,519.4 559.5,495.2 561.5,506 562.8,471.8 564.8,461.8 567.8,450.9 569.5,461.8 571.2,463.5 572.5,476.8 574.5,456.8 576.7,431.7 578.7,408 580.9,411.7 583.7,421.4 585.4,400.9 587.9,402.5 591.2,405.4 593.4,411.4 594.9,383.8 598.2,383.4 599.6,360.1 601.2,355 603.2,351.4 605.4,360.9 607.6,359.2 609.2,376.7 610.4,406 613.7,409.8 615.4,406 617.1,386.8 618.8,403.5 620.4,431.7 622.1,440.1 624.9,466 627.9,462.1 629.6,473.5 631.8,481 633.4,458.4 636.3,450.9 638,423.4 640,409.7 641.3,467.6 644.3,463.1 646.3,478.5 648,487.7 650.8,478.7 652.4,495.1 654.1,515.1 657.5,538.5 660,557.7 662,562.7 663.6,538.5 665.8,558.5 668.6,581.6 670,550.2 671.6,515.5 675,518.5 676.7,531.8 678,563.6 680,573.6 684.7,586.1 686.2,554.4 687.5,570.2 689.2,582.8 690.5,554.4 692.5,538.5 695,548.5 697.5,557.7 699.2,526.8 700.9,506 702.2,493.4 704.5,500.1 707,511 708.4,480.1 710.4,490.1 713.4,495.1 714.7,525.2 716.4,540.5 718.9,528.5 721.7,508.5 723.4,505.1 724.6,531.5 725.9,496.8 727.2,463.4 728.9,451.4 730.6,462.6 732.2,451.7 734.3,458.4 737.3,466.4 739.3,460.1 740.9,465.4 743.4,453.4 745.1,441.7 747.3,441.7 749.3,456.7 751.8,464.7 752.9,425.1 755,424.8 758.7,427.1 760.1,453.5 761.2,469.3 762.9,472.7 765.9,463.5 768.1,461.8 769.7,438.5 770.9,433.5 774.2,441.8 775.4,475.2 777.1,491.9 780.1,502.2 782.1,500.2 783.4,482.2 784.8,500.2 788.1,493.9 789.8,498.6 791.8,514.4 793.4,493.6 795.9,496.1 798.1,501.9 799.6,492.7 801.3,507.2 803.5,479.4 806,479.4 808.5,466.8 811,455.2 813.5,446.8 815.5,448.5 817.6,461.8 820.3,479.4 821.8,460.2 823.8,440.1 826,441 828.5,441.8 830.2,426.8 831.8,424.3 834.8,441.8 836.8,416.8 838.8,400.1 841,389.7 842.7,398.4 844.4,411.8 846,395.1 848.5,405.1 850.5,422.1 852.2,419.3 853.9,404.2 856.9,404.2 858.9,400.1 861.1,418.4 862.7,423.4 865.2,450.2 867.2,451.8 868.6,446 871.1,460.2 873.2,456 876.4,466 879.4,457.7 881.1,436 882.8,434.3 884.4,455.2 887.3,453.5 888.6,471 890.3,481.9 892.3,488.2 894.4,473.5 895.6,466 896.9,476.9 898.6,453.5 900.3,469.3 902.8,461.8 905,440.1 907,461.5 910,459.3 912,451.8 915,449.3 917,440.1 919.5,426.8 921.2,406.7 923.2,401.7 925.3,407.6 927.8,414.3 929.5,409.2 932.8,408.4 935.3,407.6 937.3,413.4 940,395.9 941.2,398.4 942.9,394.7 945.4,393.4 948.4,393.7 950,401.7 953.4,400.1 955.4,413.4 957.9,427.6 960.4,390.6 962.9,390.6 964.3,392.1 966,406.3 968,417.1 970.7,418.8 972.4,403.3 974,402.6 975.7,408.3 978.5,402.9 981.9,406.6 984,403.8 986.6,412.1 988.6,392.9 989.9,383.2 991.9,384.9 994.7,385.4 996.1,397.9 997.7,411.3 1000.7,402.1 1002.7,383.2 1004.7,382.1 1006.1,389.9 1009.1,377.9 1010.8,358.7 1012.8,359.9 1014.1,357.5 1017.3,362.9 1018.9,352.8 1021.4,326.1 1023.6,319.5 1025.3,316.5 1027,316.1 1028.1,299.1 1030.3,301.9 1032.5,306.4 1034.5,318.6 1036.5,314.4 1038.6,321.1 1041.1,332 1042.5,316.1 1044.5,316.1 1047.5,311.1 1049.2,293.1 1050.8,291.9 1052.8,295.2 1055,303.6 1057.3,311.1 1059.5,306.1 1062,299.4 1063.7,287.7 1065.3,276.1 1067,276.9 1070.4,271.9 1071.5,261 1073.2,258 1074.9,268 1077.9,268 1080.4,259 1082.5,258.5 1084.2,262.7 1086.2,268.5 1087.9,254.7 1089.6,252.7 1091.2,257.4 1093.7,276.9 1097.1,290.7 1098.7,281.9 1100.4,277.4 1102.1,284.7 1103.4,294.4 1106.3,294.7 1108.8,296.1 1109.9,287.4 1111.3,297.8 1112.9,312.8 1114.9,322 1117.1,327.8 1119.3,318.1 1121.3,323.1 1122.9,312.8 1124.3,306.4 1125.9,327 1128,316.1 1130.8,309.1 1132.1,287.7 1133.8,281.4 1136,283.6 1138.8,282.4 1140.5,287.7 1143.3,304.1 1145.5,293.6 1148,276.6 1149.7,285.7 1152.2,283.6 1154.7,271.4 1156.3,290.2 1158.8,290.7 1161.7,293.6 1163.3,309.4 1164.3,331.1 1166,334.5 1168.9,329 1170.5,349.8 1172.2,350.8 1173.9,342 1176.4,345.8 1178.9,346.5 1180.2,366.2 1181.8,355.5 1185.1,357.5 1186.8,335.5 1188.5,329.6 1191,323.8 1193,319.1 1194.6,327.1 1196.3,336.3 1198.5,322.1 1201,321.3 1202.7,337.2 1204.8,353.9 1207.7,370.5 1209.3,373.1 1210.5,363.9 1212.7,383.9 1216.8,407.3 1218.5,390.6 1222.2,382.2 1224.4,362.2 1225.5,338.8 1226.9,329.6 1230.2,326.3 1232.7,322.5 1234.7,334.7 1236.4,322.1 1237.7,312.1 1239.4,313.8 1241.1,285.4 1243.2,282.9 1246.9,281.2 1248.6,269.5 1251.1,272.9 1253.2,267.9 1255.2,267.4 1257.2,269.5 1261.6,270.4 1263.3,265.4 1264.9,257.4 1267.8,263.7 1271.4,271.7 1273.6,258.7 1275.3,249.5 1276.9,238.3" fill="none" stroke="#2962ff" stroke-width="3.3" stroke-linejoin="round" stroke-linecap="round"/><circle cx="1276.6" cy="237.8" r="4.9" fill="#2962ff"/><g transform="translate(130.6,620.6)"><circle r="15.5" fill="#fff" stroke="#6a20f5" stroke-width="2.3"/><path d="M-8.2,-6.3 L-1.3,-0.2 H9.2 M4.75,-5.8 L10,-0.2 L4.75,5.4 M-3.9,2.4 L-8.6,6.7" fill="none" stroke="#6a20f5" stroke-width="2.4" stroke-linejoin="miter"/></g><g transform="translate(259.6,620.6)"><circle r="15.5" fill="#fff" stroke="#6a20f5" stroke-width="2.3"/><path d="M-8.2,-6.3 L-1.3,-0.2 H9.2 M4.75,-5.8 L10,-0.2 L4.75,5.4 M-3.9,2.4 L-8.6,6.7" fill="none" stroke="#6a20f5" stroke-width="2.4" stroke-linejoin="miter"/></g><g transform="translate(385.8,620.6)"><circle r="15.5" fill="#fff" stroke="#6a20f5" stroke-width="2.3"/><path d="M-8.2,-6.3 L-1.3,-0.2 H9.2 M4.75,-5.8 L10,-0.2 L4.75,5.4 M-3.9,2.4 L-8.6,6.7" fill="none" stroke="#6a20f5" stroke-width="2.4" stroke-linejoin="miter"/></g><g transform="translate(513.8,620.6)"><circle r="15.5" fill="#fff" stroke="#6a20f5" stroke-width="2.3"/><path d="M-8.2,-6.3 L-1.3,-0.2 H9.2 M4.75,-5.8 L10,-0.2 L4.75,5.4 M-3.9,2.4 L-8.6,6.7" fill="none" stroke="#6a20f5" stroke-width="2.4" stroke-linejoin="miter"/></g><g transform="translate(638.6,620.6)"><circle r="15.5" fill="#fff" stroke="#6a20f5" stroke-width="2.3"/><path d="M-8.2,-6.3 L-1.3,-0.2 H9.2 M4.75,-5.8 L10,-0.2 L4.75,5.4 M-3.9,2.4 L-8.6,6.7" fill="none" stroke="#6a20f5" stroke-width="2.4" stroke-linejoin="miter"/></g><g transform="translate(768.7,620.6)"><circle r="15.5" fill="#fff" stroke="#6a20f5" stroke-width="2.3"/><path d="M-8.2,-6.3 L-1.3,-0.2 H9.2 M4.75,-5.8 L10,-0.2 L4.75,5.4 M-3.9,2.4 L-8.6,6.7" fill="none" stroke="#6a20f5" stroke-width="2.4" stroke-linejoin="miter"/></g><g transform="translate(891.7,620.6)"><circle r="15.5" fill="#fff" stroke="#6a20f5" stroke-width="2.3"/><path d="M-8.2,-6.3 L-1.3,-0.2 H9.2 M4.75,-5.8 L10,-0.2 L4.75,5.4 M-3.9,2.4 L-8.6,6.7" fill="none" stroke="#6a20f5" stroke-width="2.4" stroke-linejoin="miter"/></g><g transform="translate(1021.7,620.6)"><circle r="15.5" fill="#fff" stroke="#6a20f5" stroke-width="2.3"/><path d="M-8.2,-6.3 L-1.3,-0.2 H9.2 M4.75,-5.8 L10,-0.2 L4.75,5.4 M-3.9,2.4 L-8.6,6.7" fill="none" stroke="#6a20f5" stroke-width="2.4" stroke-linejoin="miter"/></g><g transform="translate(1147.7,620.6)"><circle r="15.5" fill="#fff" stroke="#6a20f5" stroke-width="2.3"/><path d="M-8.2,-6.3 L-1.3,-0.2 H9.2 M4.75,-5.8 L10,-0.2 L4.75,5.4 M-3.9,2.4 L-8.6,6.7" fill="none" stroke="#6a20f5" stroke-width="2.4" stroke-linejoin="miter"/></g><g transform="translate(1276.5,620.6)"><circle r="15.5" fill="#fff" stroke="#6a20f5" stroke-width="2.3"/><path d="M-8.2,-6.3 L-1.3,-0.2 H9.2 M4.75,-5.8 L10,-0.2 L4.75,5.4 M-3.9,2.4 L-8.6,6.7" fill="none" stroke="#6a20f5" stroke-width="2.4" stroke-linejoin="miter"/></g><g transform="translate(1276.5,580.5)"><circle r="15.5" fill="#fff" stroke="#9c27b0" stroke-width="2.3"/><path d="M4.3,-8.5 L-6.9,1.5 H-0.2 L-4.75,8.3 L6.5,-1.7 H-0.2 Z" fill="#9c27b0"/></g></svg>
<div class="box" style="top:225px;width:99.2px;height:48.7px;background:#2962ff;"></div>
<div class="box" style="top:692.2px;width:75px;height:26.5px;background:#7e57c2;"></div>
<div class="box" style="top:747.2px;width:75px;height:26.5px;background:#ffeb3b;"></div>
<div class="t" style="left:16.23px;top:15px;font-size:20.3px;transform:scaleX(1.0269);-webkit-text-stroke:0.1px #131722;">electronicGuest94e6d </div>
<div class="t" style="left:224.33px;top:15px;font-size:20.3px;transform:scaleX(1.0196);-webkit-text-stroke:0.1px #131722;">published </div>
<div class="t" style="left:317.84px;top:15px;font-size:20.3px;transform:scaleX(1.0098);-webkit-text-stroke:0.1px #131722;">on </div>
<div class="t" style="left:345.90px;top:15px;font-size:20.3px;transform:scaleX(1.0010);-webkit-text-stroke:0.1px #131722;">TradingView.com, </div>
<div class="t" style="left:511.50px;top:15px;font-size:20.3px;transform:scaleX(1.0000);-webkit-text-stroke:0.1px #131722;">Dec </div>
<div class="t" style="left:552.62px;top:15px;font-size:20.3px;transform:scaleX(1.0408);-webkit-text-stroke:0.1px #131722;">08, </div>
<div class="t" style="left:587.26px;top:15px;font-size:20.3px;transform:scaleX(1.0405);-webkit-text-stroke:0.1px #131722;">2023 </div>
<div class="t" style="left:640.31px;top:15px;font-size:20.3px;transform:scaleX(0.9878);-webkit-text-stroke:0.1px #131722;">21:48 </div>
<div class="t" style="left:696.28px;top:15px;font-size:20.3px;transform:scaleX(0.9443);-webkit-text-stroke:0.1px #131722;">UTC </div>
<div class="t" style="left:29.19px;top:58px;font-size:20.3px;transform:scaleX(0.9143);-webkit-text-stroke:0.1px #131722;">S&amp;P </div>
<div class="t" style="left:73.23px;top:58px;font-size:20.3px;transform:scaleX(1.0215);-webkit-text-stroke:0.1px #131722;">500 </div>
<div class="t" style="left:114.09px;top:58px;font-size:20.3px;transform:scaleX(1.0064);-webkit-text-stroke:0.1px #131722;">E-mini </div>
<div class="t" style="left:177.32px;top:58px;font-size:20.3px;transform:scaleX(0.9895);-webkit-text-stroke:0.1px #131722;">Futures, </div>
<div class="t" style="left:256.68px;top:58px;font-size:20.3px;transform:scaleX(0.8814);-webkit-text-stroke:0.1px #131722;">1D, </div>
<div class="t" style="left:289.98px;top:58px;font-size:20.3px;transform:scaleX(0.9225);-webkit-text-stroke:0.1px #131722;">CME </div>
<div class="t" style="left:343.38px;top:58px;font-size:20.3px;transform:scaleX(1.0353);color:#2962ff;-webkit-text-stroke:0.1px #2962ff;">4660.00</div>
<div class="t" style="left:430.91px;top:58px;font-size:20.3px;transform:scaleX(0.9852);color:#2962ff;-webkit-text-stroke:0.1px #2962ff;">+70.50 </div>
<div class="t" style="left:499.88px;top:58px;font-size:20.3px;transform:scaleX(0.9752);color:#2962ff;-webkit-text-stroke:0.1px #2962ff;">(+1.54%) </div>
<div class="t" style="left:1307.20px;top:52px;font-size:20.3px;transform:scaleX(1.0694);-webkit-text-stroke:0.1px #131722;">5200.00</div>
<div class="t" style="left:1307.20px;top:117px;font-size:20.3px;transform:scaleX(1.0694);-webkit-text-stroke:0.1px #131722;">5000.00</div>
<div class="t" style="left:1308.07px;top:182px;font-size:20.3px;transform:scaleX(1.0574);-webkit-text-stroke:0.1px #131722;">4800.00</div>
<div class="t" style="left:1308.07px;top:312px;font-size:20.3px;transform:scaleX(1.0574);-webkit-text-stroke:0.1px #131722;">4400.00</div>
<div class="t" style="left:1308.07px;top:377px;font-size:20.3px;transform:scaleX(1.0574);-webkit-text-stroke:0.1px #131722;">4200.00</div>
<div class="t" style="left:1308.07px;top:442px;font-size:20.3px;transform:scaleX(1.0574);-webkit-text-stroke:0.1px #131722;">4000.00</div>
<div class="t" style="left:1307.20px;top:507px;font-size:20.3px;transform:scaleX(1.0694);-webkit-text-stroke:0.1px #131722;">3800.00</div>
<div class="t" style="left:1307.20px;top:572px;font-size:20.3px;transform:scaleX(1.0694);-webkit-text-stroke:0.1px #131722;">3600.00</div>
<div class="t" style="left:1308.28px;top:228px;font-size:20.3px;transform:scaleX(1.0478);color:#ffffff;-webkit-text-stroke:0.1px #ffffff;">4660.00</div>
<div class="t" style="left:1307.23px;top:250px;font-size:20.3px;transform:scaleX(1.0653);color:#d6e1ff;-webkit-text-stroke:0.1px #d6e1ff;">21:16</div>
<div class="t" style="left:29.08px;top:657px;font-size:20.3px;transform:scaleX(0.8787);-webkit-text-stroke:0.1px #131722;">RSI </div>
<div class="t" style="left:64.85px;top:657px;font-size:20.3px;transform:scaleX(0.9219);-webkit-text-stroke:0.1px #131722;">(14, </div>
<div class="t" style="left:103.45px;top:657px;font-size:20.3px;transform:scaleX(1.0059);-webkit-text-stroke:0.1px #131722;">close, </div>
<div class="t" style="left:162.34px;top:657px;font-size:20.3px;transform:scaleX(0.9626);-webkit-text-stroke:0.1px #131722;">SMA, </div>
<div class="t" style="left:215.40px;top:657px;font-size:20.3px;transform:scaleX(0.9360);-webkit-text-stroke:0.1px #131722;">14, </div>
<div class="t" style="left:247.21px;top:657px;font-size:20.3px;transform:scaleX(0.9905);-webkit-text-stroke:0.1px #131722;">2) </div>
<div class="t" style="left:277.22px;top:657px;font-size:20.3px;transform:scaleX(0.9805);color:#7e57c2;-webkit-text-stroke:0.1px #7e57c2;">72.97</div>
<div class="t" style="left:337.86px;top:657px;font-size:20.3px;transform:scaleX(1.0429);color:#ffeb3b;-webkit-text-stroke:0.1px #ffeb3b;">68.63</div>
<div class="t" style="left:401.61px;top:661px;font-size:15.5px;transform:scaleX(0.9913);-webkit-text-stroke:0.35px #131722;">∅</div>
<div class="t" style="left:426.21px;top:661px;font-size:15.5px;transform:scaleX(0.9913);-webkit-text-stroke:0.35px #131722;">∅</div>
<div class="t" style="left:451.01px;top:661px;font-size:15.5px;transform:scaleX(0.9913);-webkit-text-stroke:0.35px #131722;">∅</div>
<div class="t" style="left:475.51px;top:661px;font-size:15.5px;transform:scaleX(0.9913);-webkit-text-stroke:0.35px #131722;">∅</div>
<div class="t" style="left:500.01px;top:661px;font-size:15.5px;transform:scaleX(0.9913);-webkit-text-stroke:0.35px #131722;">∅</div>
<div class="t" style="left:524.71px;top:661px;font-size:15.5px;transform:scaleX(0.9913);-webkit-text-stroke:0.35px #131722;">∅</div>
<div class="t" style="left:1307.20px;top:667px;font-size:20.3px;transform:scaleX(1.0660);-webkit-text-stroke:0.1px #131722;">80.00</div>
<div class="t" style="left:1306.92px;top:695px;font-size:20.3px;transform:scaleX(1.0769);color:#ffffff;-webkit-text-stroke:0.1px #ffffff;">72.97</div>
<div class="t" style="left:1306.93px;top:722px;font-size:20.3px;transform:scaleX(1.0714);-webkit-text-stroke:0.1px #131722;">70.70</div>
<div class="t" style="left:1306.93px;top:750px;font-size:20.3px;transform:scaleX(1.0714);-webkit-text-stroke:0.1px #131722;">68.63</div>
<div class="t" style="left:1308.08px;top:828px;font-size:20.3px;transform:scaleX(1.0485);-webkit-text-stroke:0.1px #131722;">40.00</div>
<div class="t" style="left:1306.93px;top:875px;font-size:20.3px;transform:scaleX(1.0714);-webkit-text-stroke:0.1px #131722;">28.56</div>
<div class="t" style="left:1306.93px;top:909px;font-size:20.3px;transform:scaleX(1.0714);-webkit-text-stroke:0.1px #131722;">20.00</div>
<div class="t" style="left:17.74px;top:955px;font-size:20.3px;transform:scaleX(1.0286);-webkit-text-stroke:0.1px #131722;">Jul</div>
<div class="t" style="left:143.16px;top:955px;font-size:20.3px;transform:scaleX(1.0393);-webkit-text-stroke:0.1px #131722;">Oct</div>
<div class="t" style="left:264.46px;top:955px;font-size:20.3px;transform:scaleX(1.0863);font-weight:bold;letter-spacing:0.6px;-webkit-text-stroke:0.1px #131722;">2022</div>
<div class="t" style="left:436.95px;top:955px;font-size:20.3px;transform:scaleX(0.9687);-webkit-text-stroke:0.1px #131722;">May</div>
<div class="t" style="left:610.53px;top:955px;font-size:20.3px;transform:scaleX(0.9693);-webkit-text-stroke:0.1px #131722;">Sep</div>
<div class="t" style="left:773.25px;top:955px;font-size:20.3px;transform:scaleX(1.0907);font-weight:bold;letter-spacing:0.6px;-webkit-text-stroke:0.1px #131722;">2023</div>
<div class="t" style="left:944.82px;top:955px;font-size:20.3px;transform:scaleX(0.9850);-webkit-text-stroke:0.1px #131722;">May</div>
<div class="t" style="left:1121.03px;top:955px;font-size:20.3px;transform:scaleX(0.9723);-webkit-text-stroke:0.1px #131722;">Sep</div>
<div class="t" style="left:53.65px;top:1004px;font-size:21px;transform:scaleX(1.0182);-webkit-text-stroke:0.45px #131722;">TradingView</div>
<svg style="position:absolute;left:16.2px;top:1005.3px;" width="30.8" height="15.6" viewBox="0 0 35.5 18"><path d="M14 18H7V7H0V0h14v18zM28 18h-8L27.5 0h8L28 18z" fill="#131722"/><circle cx="20" cy="3.6" r="3.5" fill="#131722"/></svg>
</body>
</html>
